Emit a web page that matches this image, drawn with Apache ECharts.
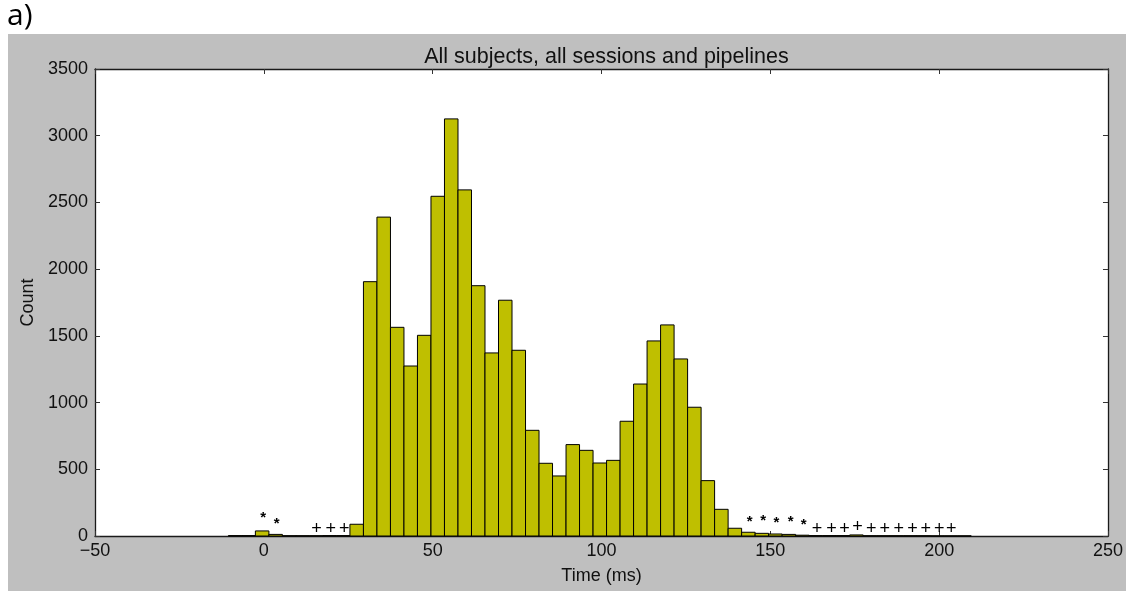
<!DOCTYPE html>
<html>
<head>
<meta charset="utf-8">
<script src="https://cdn.jsdelivr.net/npm/echarts@6/dist/echarts.min.js"></script>
<style>
html,body{margin:0;padding:0;background:#fff;}
#chart{width:1126px;height:594px;}
</style>
</head>
<body>
<div id="chart"></div>
<script>
// Histogram bins: first bin starts at binStart, each bin binWidth ms wide
const binStart = -10.5;
const binWidth = 4;
const counts = [3, 3, 38, 12, 2, 2, 2, 3, 3, 88,
  1906, 2390, 1564, 1274, 1504, 2546, 3126, 2594, 1876, 1372,
  1767, 1392, 792, 545, 450, 685, 642, 547, 567, 860,
  1139, 1462, 1582, 1327, 965, 415, 200, 58, 28, 20,
  15, 12, 6, 3, 3, 3, 8, 2, 2, 2,
  2, 2, 1, 1, 1];

// Annotation markers
const starX = [-0.2, 3.8, 143.9, 147.9, 151.8, 156.0, 159.9];
const starY = [157, 112, 131, 139, 120, 125, 107];
const plusX = [15.6, 19.8, 23.8, 163.8, 168.1, 172.0, 175.8, 179.9, 183.9, 188.0, 192.1, 196.0, 200.0, 203.6];
const plusY = [45, 45, 45, 45, 45, 45, 58, 45, 45, 45, 45, 45, 45, 45];

const xTicks = [-50, 0, 50, 100, 150, 200, 250];
const yTicks = [0, 500, 1000, 1500, 2000, 2500, 3000, 3500];

const titleText = 'All subjects, all sessions and pipelines';
const xName = 'Time (ms)';
const yName = 'Count';
const panelLabel = 'a)';

const FONT = '"Liberation Sans", Arial, sans-serif';
const chart = echarts.init(document.getElementById('chart'), null, {renderer: 'canvas'});

const histData = counts.map((c, i) => [binStart + i * binWidth, c]);

const axisLineStyle = {color: '#1a1a1a', width: 1.3};
const tickStyle = {show: true, inside: true, length: 5, lineStyle: {color: '#333', width: 1}};

function markerSeries(xs, ys, ch, font, dy) {
  return {
    type: 'custom',
    xAxisIndex: 0, yAxisIndex: 0,
    data: xs.map((x, i) => [x, ys[i]]),
    encode: {x: 0, y: 1},
    renderItem: function (params, api) {
      const p = api.coord([api.value(0), api.value(1)]);
      return {
        type: 'text',
        x: p[0], y: p[1] + dy,
        style: {text: ch, font: font, fill: '#000', align: 'center', verticalAlign: 'middle'}
      };
    },
    z: 5
  };
}

const option = {
  animation: false,
  backgroundColor: '#ffffff',
  graphic: [
    {type: 'rect', left: 8, top: 34, shape: {width: 1118, height: 557}, style: {fill: '#bfbfbf'}, z: -10, silent: true},
    {type: 'rect', left: 95, top: 69, shape: {width: 1013, height: 467}, style: {fill: '#ffffff'}, z: -9, silent: true},
    {type: 'text', left: 7, top: 1, style: {text: panelLabel, font: '30px "Open Sans", Lato, sans-serif', fill: '#000'}}
  ],
  title: {
    text: titleText,
    left: 601.5,
    textAlign: 'center',
    top: 41,
    textStyle: {fontFamily: FONT, fontSize: 21.5, fontWeight: 'normal', color: '#111'}
  },
  grid: {left: 95, right: 18, top: 69, bottom: 58, containLabel: false},
  xAxis: [
    {
      type: 'value', min: xTicks[0], max: xTicks[xTicks.length - 1], interval: 50,
      position: 'bottom',
      name: xName, nameLocation: 'middle', nameGap: 31,
      nameTextStyle: {fontFamily: FONT, fontSize: 18, color: '#111'},
      axisLine: {show: true, onZero: false, lineStyle: axisLineStyle},
      axisTick: tickStyle,
      axisLabel: {fontFamily: FONT, fontSize: 18, color: '#111', margin: 6,
        formatter: v => String(v).replace('-', '\u2212')},
      splitLine: {show: false}
    },
    {
      type: 'value', min: xTicks[0], max: xTicks[xTicks.length - 1], interval: 50,
      position: 'top',
      axisLine: {show: true, onZero: false, lineStyle: axisLineStyle},
      axisTick: tickStyle,
      axisLabel: {show: false},
      splitLine: {show: false}
    }
  ],
  yAxis: [
    {
      type: 'value', min: yTicks[0], max: yTicks[yTicks.length - 1], interval: 500,
      position: 'left',
      name: yName, nameLocation: 'middle', nameGap: 54, nameRotate: 90,
      nameTextStyle: {fontFamily: FONT, fontSize: 18, color: '#111'},
      axisLine: {show: true, onZero: false, lineStyle: axisLineStyle},
      axisTick: tickStyle,
      axisLabel: {fontFamily: FONT, fontSize: 18, color: '#111', margin: 7,
        formatter: v => String(v)},
      splitLine: {show: false}
    },
    {
      type: 'value', min: yTicks[0], max: yTicks[yTicks.length - 1], interval: 500,
      position: 'right',
      axisLine: {show: true, onZero: false, lineStyle: axisLineStyle},
      axisTick: tickStyle,
      axisLabel: {show: false},
      splitLine: {show: false}
    }
  ],
  series: [
    {
      type: 'custom',
      xAxisIndex: 0, yAxisIndex: 0,
      data: histData,
      encode: {x: 0, y: 1},
      renderItem: function (params, api) {
        const s = api.value(0), c = api.value(1);
        const p0 = api.coord([s, 0]);
        const p1 = api.coord([s + binWidth, c]);
        return {
          type: 'rect',
          shape: {x: p0[0], y: p1[1], width: p1[0] - p0[0], height: p0[1] - p1[1]},
          style: {fill: '#bfbf00', stroke: '#000', lineWidth: 1}
        };
      },
      z: 2
    },
    markerSeries(starX, starY, '*', 'bold 15px ' + FONT, 3),
    markerSeries(plusX, plusY, '+', '18px ' + FONT, -1)
  ]
};
chart.setOption(option);
</script>
</body>
</html>
